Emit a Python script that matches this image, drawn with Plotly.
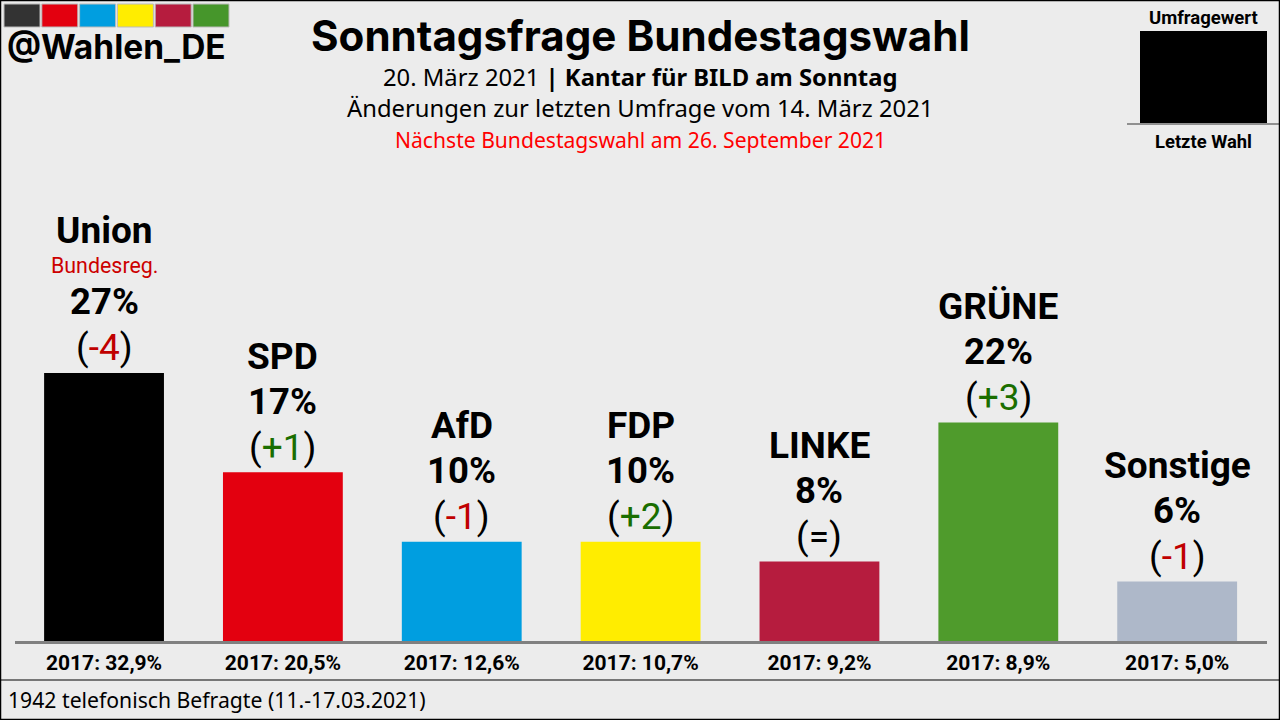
import plotly.graph_objects as go

# Umfragewerte
parties = ["Union", "SPD", "AfD", "FDP", "LINKE", "GRÜNE", "Sonstige"]
values = [27, 17, 10, 10, 8, 22, 6]
changes = ["-4", "+1", "-1", "+2", "=", "+3", "-1"]
notes = ["Bundesreg.", "", "", "", "", "", ""]
last_election = ["32,9", "20,5", "12,6", "10,7", "9,2", "8,9", "5,0"]
bar_colors = ["#000000", "#e3000f", "#009ee0", "#ffed00", "#b61c3e", "#4f9b2c", "#aeb8c9"]
logo_colors = ["#333333", "#e3000f", "#009ee0", "#ffed00", "#b61c3e", "#46962b"]

BG = "#ececec"
W, H = 1280, 720


def px(x):
    return x / W


def py(y):
    return 1 - y / H


def change_text(c):
    if c == "=":
        return "(=)"
    col = "#c00000" if c[0] == "-" else "#1a6e00"
    return f'(<span style="color:{col}">{c}</span>)'


def text(x, y, s, size, family="Noto Sans", color="#000000", xanchor="center"):
    fig.add_annotation(xref="paper", yref="paper", x=px(x), y=py(y), text=s, showarrow=False,
                       xanchor=xanchor, yanchor="middle",
                       font=dict(family=family, size=size, color=color))


fig = go.Figure()
fig.add_trace(go.Bar(x=parties, y=values, marker=dict(color=bar_colors, line_width=0), hoverinfo="skip"))

# Labels ueber den Balken
for party, val, ch, note in zip(parties, values, changes, notes):
    extra = 26 if note else 0
    rows = [(ch, 25, 37, "normal"), (f"{val}%", 71, 36.5, "bold"), (party, 116 + extra, 37, "bold")]
    for s, shift, size, weight in rows:
        fig.add_annotation(x=party, y=val, yshift=shift, text=change_text(s) if s == ch else s,
                           showarrow=False, yanchor="middle",
                           font=dict(family="Roboto", size=size, weight=weight, color="#000000"))
    if note:
        fig.add_annotation(x=party, y=val, yshift=107, text=note, showarrow=False, yanchor="middle",
                           font=dict(family="Roboto", size=21.4, color="#cc0000"))

# Kopf
text(640, 35, "<b>Sonntagsfrage Bundestagswahl</b>", 42.1, family="Inter")
text(640, 77, "20. März 2021 <b>| Kantar für BILD am Sonntag</b>", 23.8)
text(640, 108, "Änderungen zur letzten Umfrage vom 14. März 2021", 23.8)
text(640, 140, "Nächste Bundestagswahl am 26. September 2021", 21.1, color="#ff0000")
text(5, 47, "<b>@Wahlen_DE</b>", 33.5, family="Inter", xanchor="left")
text(1203, 18, "<b>Umfragewert</b>", 18.5, family="Roboto")
text(1203, 142, "<b>Letzte Wahl</b>", 18.4, family="Roboto")
text(6, 699, "1942 telefonisch Befragte (11.-17.03.2021)", 21.2, xanchor="left")

shapes = []
# Logo-Kaestchen
for i, col in enumerate(logo_colors):
    x0 = 4 + i * 37.8
    shapes.append(dict(type="rect", xref="paper", yref="paper", x0=px(x0), x1=px(x0 + 36), y0=py(27), y1=py(4),
                       fillcolor=col, line=dict(color="#bbbbbb", width=1)))
# Legende oben rechts
shapes.append(dict(type="rect", xref="paper", yref="paper", x0=px(1140), x1=px(1267), y0=py(123), y1=py(31),
                   fillcolor="#000000", line_width=0))
shapes.append(dict(type="line", xref="paper", yref="paper", x0=px(1127), x1=px(1280), y0=py(124), y1=py(124),
                   line=dict(color="#909090", width=2)))
# Fusszeile und Rahmen
shapes.append(dict(type="line", xref="paper", yref="paper", x0=0, x1=1, y0=py(680), y1=py(680),
                   line=dict(color="#000000", width=1)))
shapes.append(dict(type="rect", xref="paper", yref="paper", x0=px(0.5), x1=px(1279.5), y0=py(719.5), y1=py(0.5),
                   line=dict(color="#000000", width=1.5)))

fig.update_layout(
    width=W, height=H, margin=dict(l=0, r=0, t=0, b=0), autosize=False,
    paper_bgcolor=BG, plot_bgcolor=BG, showlegend=False, bargap=0.33, shapes=shapes,
    xaxis=dict(domain=[px(14.6), px(1266.6)], tickmode="array", tickvals=parties,
               ticktext=[f"<b>2017: {v}%</b>" for v in last_election],
               tickfont=dict(family="Roboto", size=21, color="#000000"),
               showline=True, linecolor="#808080", linewidth=3, ticks="", showgrid=False,
               ticklabelstandoff=1),
    yaxis=dict(domain=[py(641), 1], range=[0, 641 / 9.93], visible=False, showgrid=False),
)

fig.write_html("out.html", config=dict(displayModeBar=False),
               post_script="document.body.style.margin='0';document.body.style.overflow='hidden';")
